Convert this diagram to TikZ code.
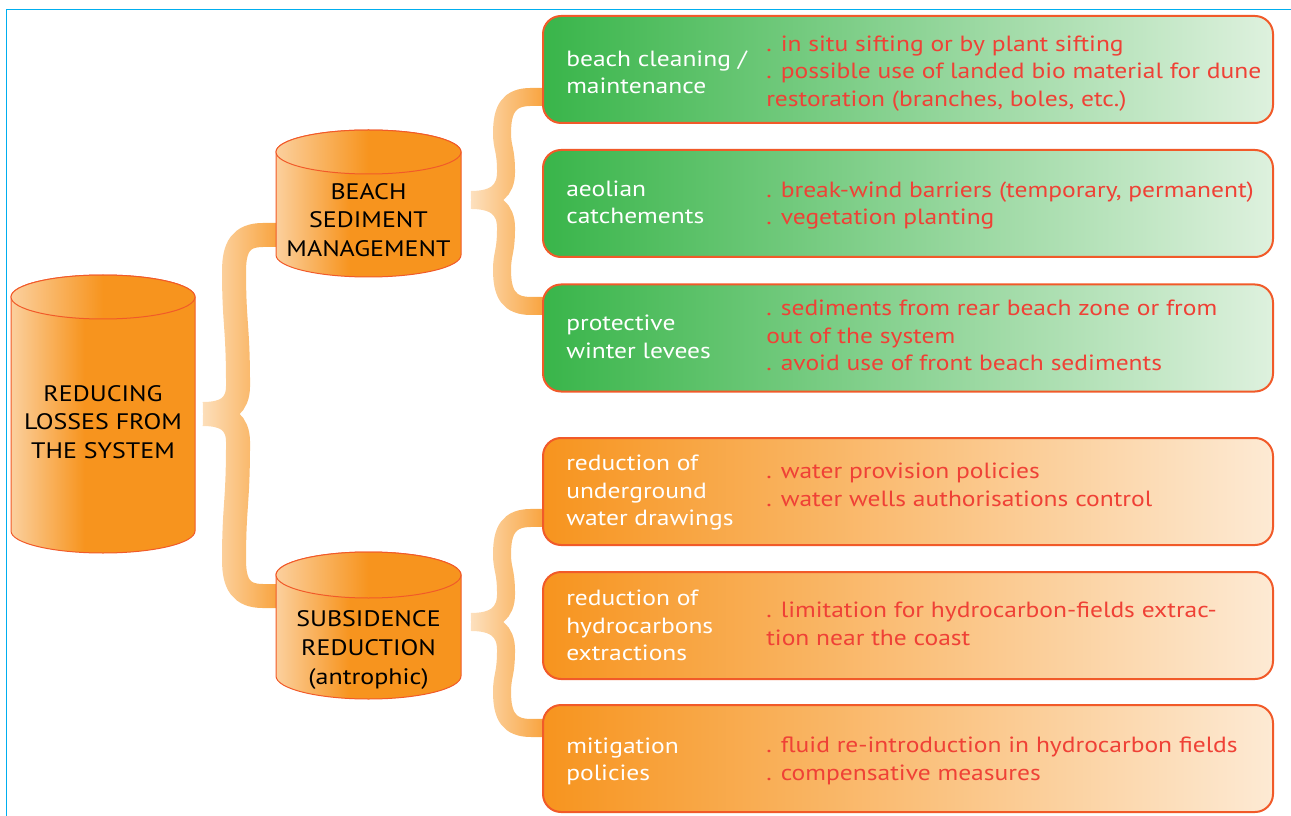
\documentclass[tikz,border=0pt]{standalone}
\usepackage{fontspec}
\setmainfont{PT Sans}[FakeStretch=1.16]
\usetikzlibrary{fadings}
\usetikzlibrary{calc}

\definecolor{canOrange}{RGB}{247,148,30}
\definecolor{canLight}{RGB}{251,208,158}
\definecolor{canEdge}{RGB}{241,90,41}
\definecolor{actGreen}{RGB}{57,181,74}
\definecolor{actGreenPale}{RGB}{222,241,222}
\definecolor{actOrangePale}{RGB}{253,234,212}
\definecolor{noteRed}{RGB}{239,65,54}
\definecolor{frameBlue}{RGB}{0,174,239}

\newcommand{\boxfont}{\fontsize{16.5}{20.6}\selectfont}
\newcommand{\canfont}{\fontsize{16.8}{21.4}\selectfont}

\pgfdeclarehorizontalshading{canbody}{100bp}{color(0bp)=(canLight); color(25bp)=(canLight); color(45bp)=(canOrange); color(100bp)=(canOrange)}
\pgfdeclarehorizontalshading{cantop}{100bp}{color(0bp)=(canLight); color(25bp)=(canLight); color(50bp)=(canOrange); color(100bp)=(canOrange)}
\tikzfading[name=fork fade, left color=transparent!78, right color=transparent!0]

\tikzset{
  % can: half width, body height, end radius
  pics/can/.style n args={3}{code={
    \shade[shading=canbody, draw=canEdge, line width=0.75pt]
      (-#1,0) -- (-#1,#2) arc[start angle=180, end angle=0, x radius=#1, y radius=#3]
      -- (#1,0) arc[start angle=0, end angle=-180, x radius=#1, y radius=#3] -- cycle;
    \shade[shading=cantop, draw=canEdge, line width=0.75pt] (0,0) ellipse [x radius=#1, y radius=#3];
  }},
  % curly: reach up, reach down, stroke width (tip at the origin)
  pics/curly/.style n args={3}{code={
    \draw[canOrange, line width=#3, path fading=fork fade]
      (82,-#1) -- (60,-#1) .. controls (38,-#1) and (31,{-#1+12}) .. (31,{-#1+36})
      .. controls (31,{-#1/2}) and (35,{-#1/2}) .. (35,-28)
      .. controls (35,-9) and (24,0) .. (0,0)
      (0,0) .. controls (24,0) and (35,9) .. (35,28)
      .. controls (35,{#2/2}) and (31,{#2/2}) .. (31,{#2-36})
      .. controls (31,{#2-12}) and (38,#2) .. (60,#2) -- (82,#2);
  }},
  act/.style={rounded corners=13.5pt, draw=canEdge, line width=1.5pt, minimum width=547.5pt, minimum height=80.25pt, inner sep=0pt},
  shore/.style={act, left color=actGreen, right color=actGreenPale},
  ground/.style={act, left color=canOrange, right color=actOrangePale},
  what/.style={anchor=west, align=left, inner sep=0pt, text=white, font=\boxfont},
  how/.style={anchor=west, align=left, inner sep=0pt, text=noteRed, font=\boxfont},
  cantext/.style={align=center, inner sep=0pt, font=\canfont},
}

\begin{document}
\begin{tikzpicture}[x=0.75pt,y=0.75pt,yscale=-1,xscale=1]
\useasboundingbox (0,0) rectangle (1291,816);

%Frame
\draw [frameBlue, line width=1pt] (6.3,816) -- (6.3,9.3) -- (1291,9.3) ;

%Shape: Brace
\pic [transform shape] (lossfork) at (203,414) {curly={179}{182}{18pt}};
%Shape: Brace
\pic [transform shape] (beachfork) at (471,200) {curly={103}{106}{13.5pt}};
%Shape: Brace
\pic [transform shape] (sinkfork) at (471,622) {curly={104}{106}{13.5pt}};

%Shape: Can
\pic [transform shape] at (103,297) {can={92}{234}{22}};
%Shape: Can
\pic [transform shape] at (368.5,152) {can={92.5}{103}{22}};
%Shape: Can
\pic [transform shape] at (368.5,575) {can={92.5}{101}{23}};

% Text Node
\node [cantext] (reduce) at (103,422) {REDUCING\\LOSSES FROM\\THE SYSTEM};
% Text Node
\node [cantext] (beach) at (368.5,220) {BEACH\\SEDIMENT\\MANAGEMENT};
% Text Node
\node [cantext] (subsid) at (368.5,650) {SUBSIDENCE\\REDUCTION\\(antrophic)};

%Rounded Rect
\node [shore] (clean) at (908,69.5) {};
\node [shore] (aeolian) at (908,203.5) {};
\node [shore] (levee) at (908,338) {};
\node [ground] (water) at (908,491.5) {};
\node [ground] (hydro) at (908,625.5) {};
\node [ground] (mitig) at (908,758.5) {};

% Text Node
\node [what] (cleanL) at ($(clean.west)+(24,3)$) {beach cleaning /\\maintenance};
\node [how] (cleanR) at ($(clean.west)+(224,4)$) {. in situ sifting or by plant sifting\\. possible use of landed bio material for dune\\restoration (branches, boles, etc.)};
% Text Node
\node [what] (aeolianL) at ($(aeolian.west)+(24,-1)$) {aeolian\\catchements};
\node [how] (aeolianR) at ($(aeolian.west)+(224,2)$) {. break-wind barriers (temporary, permanent)\\. vegetation planting};
% Text Node
\node [what] (leveeL) at ($(levee.west)+(24,-1)$) {protective\\winter levees};
\node [how] (leveeR) at ($(levee.west)+(224,-2.5)$) {. sediments from rear beach zone or from\\out of the system\\. avoid use of front beach sediments};
% Text Node
\node [what] (waterL) at ($(water.west)+(24,1.5)$) {reduction of\\underground\\water drawings};
\node [how] (waterR) at ($(water.west)+(224,-6.5)$) {. water provision policies\\. water wells authorisations control};
% Text Node
\node [what] (hydroL) at ($(hydro.west)+(24,0)$) {reduction of\\hydrocarbons\\extractions};
\node [how] (hydroR) at ($(hydro.west)+(224,-1.5)$) {. limitation for hydrocarbon-fields extrac-\\tion near the coast};
% Text Node
\node [what] (mitigL) at ($(mitig.west)+(24,3)$) {mitigation\\policies};
\node [how] (mitigR) at ($(mitig.west)+(224,2.5)$) {. fluid re-introduction in hydrocarbon fields\\. compensative measures};

\end{tikzpicture}
\end{document}
